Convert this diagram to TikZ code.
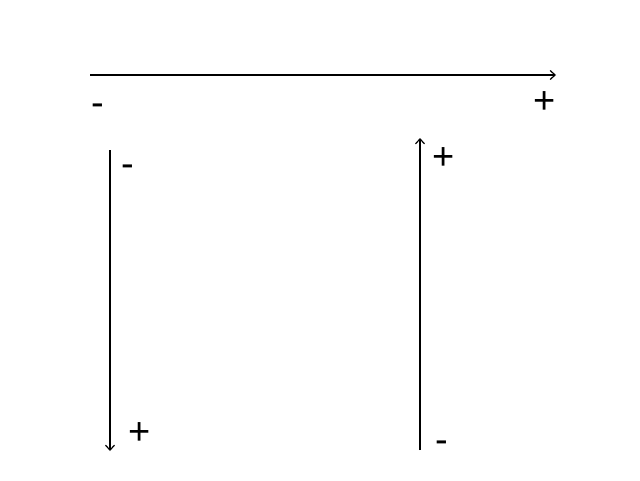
\documentclass[tikz,border=0pt]{standalone}
\usepackage{fontspec}
\setmainfont{Liberation Sans}
\usetikzlibrary{arrows.meta}
\begin{document}
\begin{tikzpicture}[x=1pt,y=-1pt,
  axis/.style={line width=1.8pt,-{Straight Barb[length=5pt,width=9pt,line width=1.2pt]}},
  sign/.style={inner sep=0pt,font=\fontsize{38}{40}\selectfont}]
\useasboundingbox (0,0) rectangle (640,480);
\coordinate (h1) at (90,75);
\coordinate (h2) at (556,75);
\coordinate (l1) at (110,150);
\coordinate (l2) at (110,451);
\coordinate (r1) at (420,450);
\coordinate (r2) at (420,138);
\draw[axis] (h1) -- (h2);
\draw[axis] (l1) -- (l2);
\draw[axis] (r1) -- (r2);
\node[sign] (hm) at (97.5,110) {-};
\node[sign] (hp) at (545,103) {+};
\node[sign] (lm) at (128,171) {-};
\node[sign] (lp) at (140,434) {+};
\node[sign] (rp) at (444,159) {+};
\node[sign] (rm) at (442,447) {-};
\end{tikzpicture}
\end{document}
